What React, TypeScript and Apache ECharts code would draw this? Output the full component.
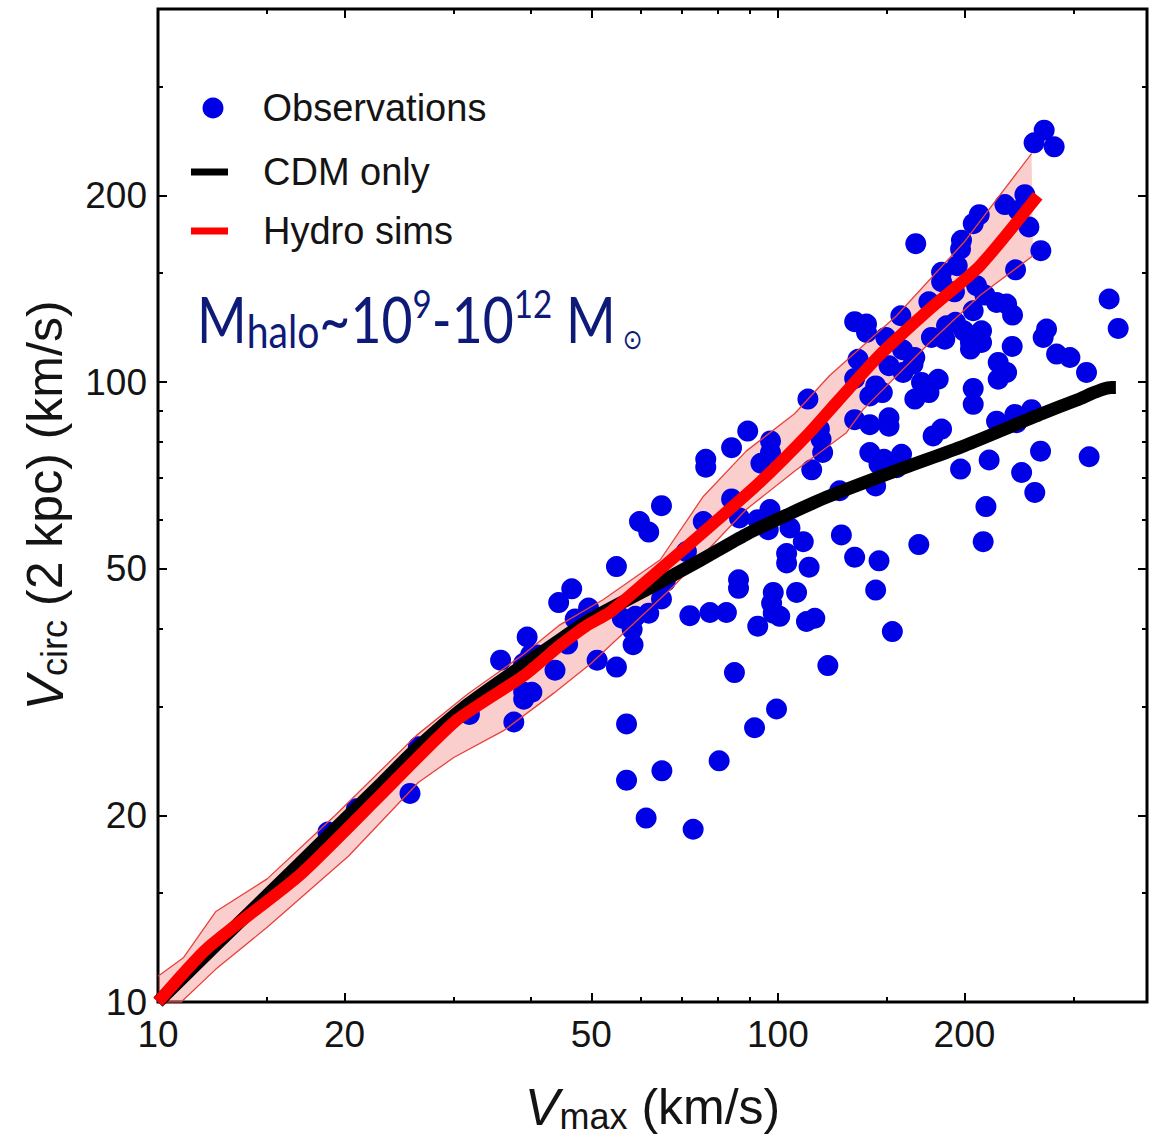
import React, { useEffect, useRef } from 'react';
import * as echarts from 'echarts';

// ---------- axis ranges & ticks (km/s) ----------
const X_MIN = 10;
const X_MAX = 394;
const Y_MIN = 10;
const Y_MAX = 400;
const majorTicks = [10, 20, 50, 100, 200];
const minorTicks = [15, 30, 40, 60, 70, 80, 90, 150, 300];

// ---------- observations (Vmax, Vcirc(2kpc)) ----------
const obsX = [
  46.5, 44.3, 47.1, 49.5, 39.4, 35.7, 39.9, 38.9, 40.9, 45.8, 43.7, 38.9, 40.1, 38.9, 37.5, 31.8, 26.3, 25.5, 20.9, 18.8,
  111.8, 89.4, 84.2, 97.3, 97.3, 76.5, 76.5, 93.9, 116.7, 117.4, 118.1, 113.4, 64.9, 84.2, 59.8, 61.9, 75.8, 86.7, 92.8, 97.1,
  96.5, 104.6, 109.9, 71.2, 54.9, 103.3, 103.3, 112.3, 65.8, 64.9, 86.4, 86.4, 98.3, 107.2, 56.1, 58.9, 61.9, 58.2, 58.4, 72.1,
  77.7, 82.6, 97.7, 98.3, 92.8, 100.7, 111.2, 114.7, 51.1, 54.9, 85.1, 120.4, 99.5, 91.7, 57.0, 80.4, 65.0, 57.0, 61.3, 73.0,
  268.9, 259.0, 279.1, 250.3, 232.4, 244.2, 254.1, 211.3, 206.6, 166.9, 197.8, 197.1, 265.6, 241.8, 194.7, 183.7, 183.7, 192.7,
  209.2, 215.8, 225.3, 233.9, 239.1, 175.2, 206.6, 342.3, 354.0, 133.0, 139.0, 139.0, 157.9, 149.3, 176.9, 187.1, 193.4, 185.9,
  199.5, 204.5, 213.1, 213.1, 204.5, 158.9, 166.3, 134.7, 133.0, 151.1, 159.2, 165.2, 143.8, 170.5, 181.4, 175.3, 166.3, 238.8,
  271.3, 267.9, 281.6, 295.9, 314.7, 226.7, 233.9, 226.7, 206.6, 140.7, 147.4,
  206.6, 133.0, 140.7, 151.1, 151.1, 178.0, 183.7, 225.3, 241.2, 242.7, 256.6, 140.7, 148.3, 158.3, 155.4, 145.6, 125.8, 143.8,
  197.1, 219.2, 265.3, 317.8, 247.3, 259.7, 216.6, 126.6, 168.8, 214.4, 133.0, 145.6, 143.8, 153.0,
];
const obsY = [
  46.4, 44.1, 41.5, 43.2, 38.8, 35.6, 36.3, 35.2, 36.3, 37.8, 34.3, 31.6, 31.6, 30.8, 28.3, 29.1, 25.8, 21.7, 20.5, 18.8,
  93.9, 83.4, 78.4, 80.4, 77.0, 75.1, 72.9, 74.0, 84.0, 80.9, 77.0, 72.2, 63.2, 64.8, 59.6, 57.3, 59.6, 60.4, 60.0, 62.3,
  57.8, 58.2, 55.3, 53.3, 50.4, 52.9, 51.1, 50.3, 47.7, 44.7, 48.0, 46.5, 45.8, 45.8, 41.6, 41.9, 42.4, 39.9, 37.7, 42.0,
  42.5, 42.5, 44.0, 42.4, 40.4, 41.9, 41.1, 41.6, 35.6, 34.7, 34.0, 34.9, 29.7, 27.7, 28.1, 24.5, 23.6, 22.8, 19.8, 19.0,
  255.0, 243.3, 239.7, 200.7, 193.4, 189.4, 178.0, 186.3, 180.2, 167.3, 169.4, 164.0, 163.0, 151.8, 154.1, 150.4, 145.2, 139.9,
  143.1, 138.2, 134.5, 133.7, 128.3, 134.8, 130.4, 136.2, 122.1, 125.2, 124.1, 120.3, 128.0, 118.1, 118.1, 123.3, 124.9, 117.3,
  121.0, 115.9, 121.0, 115.9, 113.1, 112.8, 109.6, 108.9, 101.4, 106.3, 103.7, 106.9, 98.6, 99.9, 101.1, 96.2, 93.9, 114.2,
  121.8, 118.1, 111.0, 109.6, 103.7, 107.6, 103.7, 101.1, 97.7, 95.0, 96.2,
  92.1, 87.0, 85.4, 87.6, 84.9, 81.9, 84.0, 86.5, 88.7, 86.0, 90.3, 77.0, 75.1, 76.5, 72.8, 73.7, 66.8, 68.0,
  72.4, 74.9, 77.4, 75.8, 71.5, 66.4, 63.0, 56.7, 54.7, 55.3, 52.2, 51.5, 46.2, 39.6,
];

// ---------- CDM only (black) ----------
const cdmX = [10, 12.4, 16.9, 23, 26.3, 31.6, 38.9, 44.5, 50, 62.2, 75, 88.9, 105, 121.1, 160, 199.5, 267, 303, 345, 351];
const cdmY = [10, 12.35, 16.7, 22.6, 25.8, 30.2, 35.0, 38.4, 41.5, 46.6, 51.6, 56.8, 61.5, 65.5, 72.8, 78.9, 89.0, 93.5, 98.0, 98.0];

// ---------- Hydro sims (red median) ----------
const hydroX = [10, 12.0, 16.9, 23.0, 30.2, 38.9, 44.5, 49.0, 53.7, 64.6, 77.7, 93.5, 112.5, 124.9, 145.6, 175.8, 211.8, 262.6];
const hydroY = [10, 12.2, 16.0, 21.7, 28.4, 33.6, 37.6, 40.4, 42.6, 49.9, 58.5, 68.9, 82.9, 93.2, 110.3, 131.2, 154.1, 199.8];

// ---------- Hydro sims scatter band ----------
const bandUpperX = [10, 11.0, 12.4, 15.0, 19.3, 26.1, 31.6, 38.9, 44.5, 52.3, 64.6, 75.8, 88.9, 106.5, 121.1, 155.4, 199.5, 256.6];
const bandUpperY = [11.0, 11.8, 14.0, 15.8, 20.0, 26.9, 31.4, 36.4, 40.6, 44.6, 51.7, 65.4, 77.4, 89.0, 102.4, 128.0, 168.0, 233.8];
const bandLowerX = [10.0, 10.9, 12.4, 15.0, 20.3, 26.3, 30.0, 36.1, 43.5, 50.0, 67.8, 88.9, 106.5, 129.0, 137.2, 175.8, 211.8, 258.0];
const bandLowerY = [10.0, 10.0, 11.3, 13.2, 17.2, 22.6, 24.8, 27.4, 31.5, 35.2, 46.8, 62.3, 71.9, 82.9, 90.3, 115.9, 138.0, 160.0];

const lg = (v: number) => Math.log10(v);
const pairs = (xs: number[], ys: number[]) => xs.map((x, i) => [lg(x), lg(ys[i])]);

const FONT = "'Liberation Sans', Arial, Helvetica, sans-serif";
const TXT = '#141414';

function axis(pos: string, lo: number, hi: number, ticks: number[], len: number, labeled: boolean, extra: any = {}) {
  const vals = ticks.map(lg);
  return {
    type: 'value',
    position: pos,
    min: lg(lo),
    max: lg(hi),
    nameMoveOverlap: false,
    axisLine: { show: false },
    splitLine: { show: false },
    axisTick: { show: true, inside: true, length: len, lineStyle: { color: '#000', width: 2 }, customValues: vals },
    axisLabel: labeled
      ? {
          show: true,
          customValues: vals,
          formatter: (v: number) => String(Math.round(Math.pow(10, v))),
          fontSize: 37,
          fontFamily: FONT,
          color: TXT,
          margin: pos === 'left' ? 11 : 14,
        }
      : { show: false },
    ...extra,
  };
}

const titleRich = {
  v: { fontSize: 52, fontStyle: 'italic', fontFamily: FONT, color: TXT, lineHeight: 54, verticalAlign: 'middle' },
  s: { fontSize: 36, fontFamily: FONT, color: TXT, lineHeight: 36, verticalAlign: 'bottom' },
  n: { fontSize: 50, fontFamily: FONT, color: TXT, lineHeight: 54, verticalAlign: 'middle' },
};

export default function App() {
  const ref = useRef<HTMLDivElement>(null);
  useEffect(() => {
    if (!ref.current) return;
    const chart = echarts.init(ref.current, null, { renderer: 'svg' });
    const option: any = {
      animation: false,
      backgroundColor: '#fff',
      grid: {
        left: 158, right: 4, top: 9, bottom: 136,
        show: true, borderColor: '#000', borderWidth: 3, backgroundColor: 'transparent',
        outerBoundsMode: 'none',
      },
      xAxis: [
        axis('bottom', X_MIN, X_MAX, majorTicks, 9, true, {
          name: '{v|V}{s|max}{n| (km/s)}',
          nameLocation: 'middle',
          nameGap: 78,
          nameTextStyle: { rich: titleRich },
        }),
        axis('bottom', X_MIN, X_MAX, minorTicks, 5, false),
        axis('top', X_MIN, X_MAX, majorTicks, 9, false),
        axis('top', X_MIN, X_MAX, minorTicks, 5, false),
      ],
      yAxis: [
        axis('left', Y_MIN, Y_MAX, majorTicks, 9, true, {
          name: '{v|V}{s|circ}{n| (2 kpc) (km/s)}',
          nameLocation: 'middle',
          nameGap: 86,
          nameTextStyle: { rich: titleRich },
        }),
        axis('left', Y_MIN, Y_MAX, minorTicks, 5, false),
        axis('right', Y_MIN, Y_MAX, majorTicks, 9, false),
        axis('right', Y_MIN, Y_MAX, minorTicks, 5, false),
      ],
      legend: [
        {
          data: [{ name: 'Observations', icon: 'circle' }],
          orient: 'vertical', left: 202.5, top: 88, padding: 0,
          itemWidth: 21, itemHeight: 21, selectedMode: false,
          itemStyle: { borderWidth: 0 },
          textStyle: { fontSize: 38, fontFamily: FONT, color: TXT, lineHeight: 40, padding: [0, 0, 0, 34] },
        },
        {
          data: [{ name: 'CDM only', icon: 'rect' }, { name: 'Hydro sims', icon: 'rect' }],
          orient: 'vertical', left: 191, top: 152, padding: 0, itemGap: 19,
          itemWidth: 37, itemHeight: 7, selectedMode: false,
          itemStyle: { borderWidth: 0 },
          textStyle: { fontSize: 38, fontFamily: FONT, color: TXT, lineHeight: 40, padding: [0, 0, 0, 30] },
        },
      ],
      graphic: [
        {
          type: 'text',
          x: 197,
          y: 318,
          scaleX: 0.85,
          z: 100,
          style: {
            text: '{b|M}{s|halo}{b|~10}{p|9}{b|-10}{p|12}{b| M}{o|⊙}',
            fill: '#0d1a78',
            align: 'left',
            verticalAlign: 'middle',
            rich: {
              b: { fontSize: 63, fontFamily: 'Lato', fill: '#0d1a78', lineHeight: 70, verticalAlign: 'middle' },
              s: { fontSize: 46, fontFamily: 'Lato', fill: '#0d1a78', lineHeight: 48, verticalAlign: 'bottom' },
              p: { fontSize: 39, fontFamily: 'Lato', fill: '#0d1a78', lineHeight: 42, verticalAlign: 'top' },
              o: { fontSize: 28, fontFamily: "'DejaVu Sans'", fill: '#0d1a78', lineHeight: 44, verticalAlign: 'bottom', padding: [0, 0, 0, 8] },
            },
          },
        },
      ],
      series: [
        {
          type: 'custom',
          name: 'band',
          silent: true,
          clip: true,
          data: [[1, 1]],
          encode: { x: 0, y: 1 },
          renderItem: (params: any, api: any) => {
            const pts: number[][] = [];
            for (let i = 0; i < bandUpperX.length; i++) pts.push(api.coord([lg(bandUpperX[i]), lg(bandUpperY[i])]));
            for (let i = bandLowerX.length - 1; i >= 0; i--) pts.push(api.coord([lg(bandLowerX[i]), lg(bandLowerY[i])]));
            return { type: 'polygon', shape: { points: pts }, style: { fill: 'rgba(238,60,60,0.25)', stroke: 'none' } };
          },
        },
        {
          type: 'line', name: 'bandUpper', silent: true, symbol: 'none', clip: true,
          data: pairs(bandUpperX, bandUpperY),
          lineStyle: { color: '#e8413c', width: 1.3 },
        },
        {
          type: 'line', name: 'bandLower', silent: true, symbol: 'none', clip: true,
          data: pairs(bandLowerX, bandLowerY),
          lineStyle: { color: '#e8413c', width: 1.3 },
        },
        {
          type: 'line', name: 'CDM only', symbol: 'none', clip: true, smooth: 0.25,
          data: pairs(cdmX, cdmY),
          itemStyle: { color: '#000' },
          lineStyle: { color: '#000', width: 13 },
        },
        {
          type: 'line', name: 'Hydro sims', symbol: 'none', clip: true, smooth: 0.2,
          data: pairs(hydroX, hydroY),
          itemStyle: { color: '#f00' },
          lineStyle: { color: '#f00', width: 12 },
        },
        {
          type: 'scatter', name: 'Observations', symbol: 'circle', symbolSize: 21,
          data: pairs(obsX, obsY),
          itemStyle: { color: '#0000e6', opacity: 1 },
        },
      ],
    };
    chart.setOption(option);
    return () => chart.dispose();
  }, []);
  return <div ref={ref} style={{ position: 'fixed', left: 0, top: 0, width: 1151, height: 1138 }} />;
}
